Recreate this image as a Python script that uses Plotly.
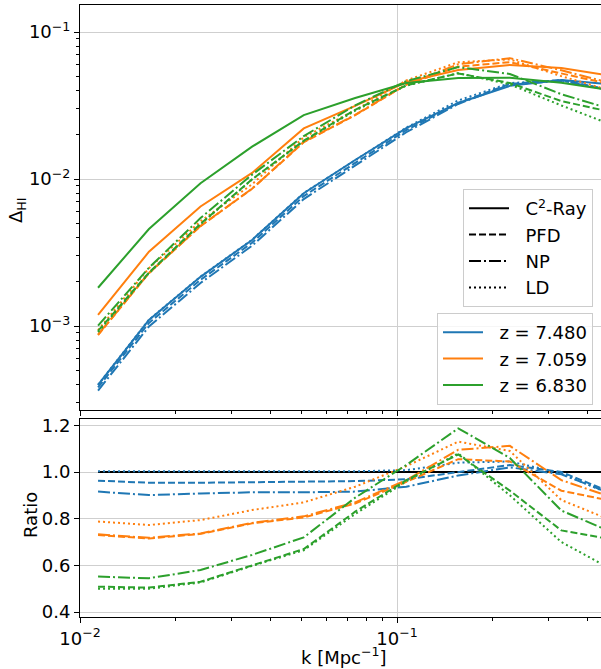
import plotly.graph_objects as go

# ---------------- data ----------------
k = [0.0114, 0.0165, 0.0240, 0.0349, 0.0508, 0.0738, 0.107, 0.156, 0.227, 0.330, 0.480]

z_labels = ["z = 7.480", "z = 7.059", "z = 6.830"]
colors = ["#1f77b4", "#ff7f0e", "#2ca02c"]

c2ray_z7480 = [3.97e-4, 1.10e-3, 2.16e-3, 3.85e-3, 8.0e-3, 1.346e-2, 2.22e-2, 3.29e-2, 4.30e-2, 4.71e-2, 4.40e-2]
c2ray_z7059 = [1.19e-3, 3.20e-3, 6.50e-3, 1.10e-2, 2.21e-2, 3.14e-2, 4.57e-2, 5.51e-2, 5.97e-2, 5.69e-2, 5.00e-2]
c2ray_z6830 = [1.82e-3, 4.57e-3, 9.35e-3, 1.66e-2, 2.72e-2, 3.56e-2, 4.50e-2, 4.86e-2, 4.89e-2, 4.52e-2, 4.00e-2]

ratio_pfd_z7480 = [0.963, 0.954, 0.954, 0.957, 0.957, 0.961, 0.969, 1.000, 1.030, 1.000, 0.910]
ratio_np_z7480 = [0.916, 0.901, 0.908, 0.913, 0.913, 0.916, 0.937, 0.985, 1.020, 0.990, 0.905]
ratio_ld_z7480 = [1.003, 1.003, 1.003, 1.003, 1.003, 1.003, 1.008, 1.040, 1.045, 0.995, 0.900]

ratio_pfd_z7059 = [0.730, 0.715, 0.735, 0.780, 0.805, 0.865, 0.958, 1.055, 1.045, 0.920, 0.875]
ratio_np_z7059 = [0.733, 0.718, 0.737, 0.782, 0.810, 0.870, 0.965, 1.095, 1.112, 0.965, 0.890]
ratio_ld_z7059 = [0.788, 0.773, 0.794, 0.837, 0.870, 0.937, 1.025, 1.130, 1.090, 0.880, 0.790]

ratio_pfd_z6830 = [0.509, 0.505, 0.530, 0.600, 0.670, 0.830, 0.965, 1.075, 0.920, 0.750, 0.710]
ratio_np_z6830 = [0.552, 0.545, 0.580, 0.645, 0.720, 0.890, 1.030, 1.187, 1.060, 0.835, 0.740]
ratio_ld_z6830 = [0.500, 0.500, 0.527, 0.598, 0.665, 0.820, 0.960, 1.080, 0.900, 0.700, 0.580]

ratio_c2ray = [1.0] * len(k)

method_names = ["C<sup>2</sup>-Ray", "PFD", "NP", "LD"]
ratio_ticks = [0.4, 0.6, 0.8, 1.0, 1.2]

# ---------------- styles ----------------
FONT = "DejaVu Sans"
LW = 2
dash_styles = {"C2Ray": "solid", "PFD": "7px,3px", "NP": "12px,3px,2px,3px", "LD": "2px,3px"}
PAD = "\u00a0\u00a0"  # small gap between legend line sample and text

c2ray_all = [c2ray_z7480, c2ray_z7059, c2ray_z6830]
ratios_all = [
    {"PFD": ratio_pfd_z7480, "NP": ratio_np_z7480, "LD": ratio_ld_z7480},
    {"PFD": ratio_pfd_z7059, "NP": ratio_np_z7059, "LD": ratio_ld_z7059},
    {"PFD": ratio_pfd_z6830, "NP": ratio_np_z6830, "LD": ratio_ld_z6830},
]

fig = go.Figure()

# black reference line (C2-Ray / C2-Ray)
fig.add_trace(go.Scatter(x=k, y=ratio_c2ray, mode="lines", xaxis="x2", yaxis="y2",
                         line=dict(color="black", width=LW), showlegend=False, hoverinfo="skip"))

for zi in range(3):
    col = colors[zi]
    base = c2ray_all[zi]
    fig.add_trace(go.Scatter(x=k, y=base, mode="lines", xaxis="x", yaxis="y",
                             line=dict(color=col, width=LW, dash="solid"), showlegend=False))
    for m in ["PFD", "NP", "LD"]:
        r = ratios_all[zi][m]
        model = [b * rr for b, rr in zip(base, r)]
        fig.add_trace(go.Scatter(x=k, y=model, mode="lines", xaxis="x", yaxis="y",
                                 line=dict(color=col, width=LW, dash=dash_styles[m]), showlegend=False))
        fig.add_trace(go.Scatter(x=k, y=r, mode="lines", xaxis="x2", yaxis="y2",
                                 line=dict(color=col, width=LW, dash=dash_styles[m]), showlegend=False))

# legend entries: methods
for name, key in zip(method_names, ["C2Ray", "PFD", "NP", "LD"]):
    fig.add_trace(go.Scatter(x=[None], y=[None], mode="lines", xaxis="x", yaxis="y", name=PAD + name,
                             line=dict(color="black", width=LW, dash=dash_styles[key]),
                             legend="legend"))
# legend entries: redshifts
for zl, col in zip(z_labels, colors):
    fig.add_trace(go.Scatter(x=[None], y=[None], mode="lines", xaxis="x", yaxis="y", name=PAD + zl,
                             line=dict(color=col, width=LW), legend="legend2"))

# ---------------- layout ----------------
L, R, T, B = 80, 0, 5, 52
W, H = 601, 669
pw = W - L - R
ph = H - T - B

def px_x(p):
    return (p - L) / pw

def px_y(p):
    return (H - B - p) / ph

xr = [-2, -2 + (W - R - L) / 317.0]
top_dom = [px_y(410), 1.0]
bot_dom = [0.0, px_y(419)]
ytop_range = [-1 - (410 - 32) / 147.0, -1 + (32 - 5) / 147.0]
ybot_range = [1.0 - (617 - 472) / 233.5, 1.0 + (472 - 419) / 233.5]

xminor = [m * 10.0 ** e for e in (-2, -1) for m in range(2, 10)]
yminor = [m * 10.0 ** e for e in (-4, -3, -2, -1) for m in range(2, 10)]

grid_col = "#cfcfcf"
axis_common = dict(showline=True, linecolor="black", linewidth=1, ticks="outside",
                   tickcolor="black", tickwidth=1, ticklen=5,
                   tickfont=dict(family=FONT, size=18, color="black"),
                   gridcolor=grid_col, gridwidth=1, zeroline=False)

legend_common = dict(xanchor="right", yanchor="top",
                     bgcolor="rgba(255,255,255,0.8)", bordercolor="#cccccc", borderwidth=1,
                     font=dict(family=FONT, size=18, color="black"), tracegroupgap=0,
                     itemwidth=40)

title_font = dict(family=FONT, size=18, color="black")

fig.update_layout(
    width=W, height=H,
    margin=dict(l=L, r=R, t=T, b=B, pad=0, autoexpand=False),
    paper_bgcolor="white", plot_bgcolor="white",
    font=dict(family=FONT, size=18, color="black"),
    xaxis=dict(type="log", range=xr, domain=[0, 1], anchor="y", mirror=True,
               tickvals=[0.01, 0.1], showticklabels=False,
               minor=dict(tickmode="array", tickvals=xminor, ticks="outside", ticklen=3,
                          tickcolor="black", tickwidth=1, showgrid=False),
               showgrid=True, **axis_common),
    yaxis=dict(type="log", range=ytop_range, domain=top_dom, anchor="x",
               tickvals=[1e-3, 1e-2, 1e-1],
               ticktext=["10<sup>\u22123</sup>", "10<sup>\u22122</sup>", "10<sup>\u22121</sup>"],
               minor=dict(tickmode="array", tickvals=yminor, ticks="outside", ticklen=3,
                          tickcolor="black", tickwidth=1, showgrid=False),
               showgrid=True, **axis_common),
    xaxis2=dict(type="log", range=xr, domain=[0, 1], anchor="y2", mirror=True, matches="x",
                tickvals=[0.01, 0.1],
                ticktext=["10<sup>\u22122</sup>", "10<sup>\u22121</sup>"],
                minor=dict(tickmode="array", tickvals=xminor, ticks="outside", ticklen=3,
                           tickcolor="black", tickwidth=1, showgrid=False),
                showgrid=True, **axis_common),
    yaxis2=dict(range=ybot_range, domain=bot_dom, anchor="x2",
                tickvals=ratio_ticks, ticktext=[f"{v:.1f}" for v in ratio_ticks],
                showgrid=True, **axis_common),
    legend=dict(x=px_x(593), y=px_y(189), **legend_common),
    legend2=dict(x=px_x(593), y=px_y(313), **legend_common),
    annotations=[
        dict(text="\u0394<sub>HI</sub>", xref="paper", yref="paper", x=px_x(17), y=px_y(210),
             xanchor="center", yanchor="middle", textangle=-90, showarrow=False, font=title_font),
        dict(text="Ratio", xref="paper", yref="paper", x=px_x(30), y=px_y(515),
             xanchor="center", yanchor="middle", textangle=-90, showarrow=False, font=title_font),
        dict(text="k [Mpc<sup>\u22121</sup>]", xref="paper", yref="paper", x=px_x(344), y=px_y(656),
             xanchor="center", yanchor="middle", showarrow=False, font=title_font),
    ],
)

fig.write_html("out.html", config={"displayModeBar": False},
               post_script="document.body.style.margin='0px';")
